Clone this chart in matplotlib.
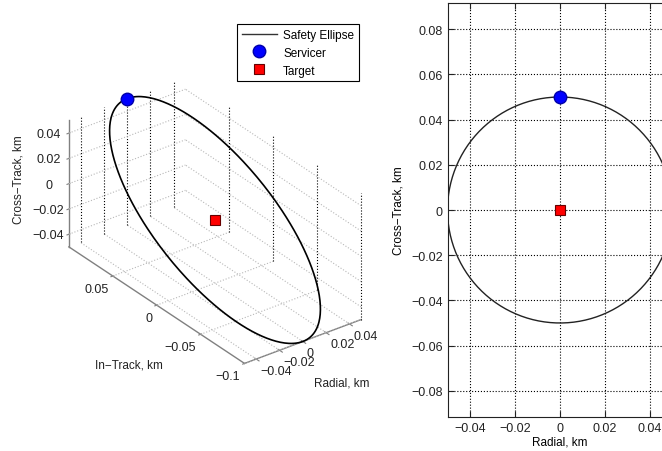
import numpy as np
import matplotlib
matplotlib.use("Agg")
import matplotlib.pyplot as plt
from mpl_toolkits.mplot3d import proj3d

plt.rcParams['font.family'] = ['Liberation Sans', 'DejaVu Sans']
plt.rcParams['font.size'] = 9

# Safety ellipse (km)
radial_amp = 0.05
intrack_amp = 0.10
cross_amp = 0.05
servicer = [0.0, 0.10, 0.05]   # radial, in-track, cross-track
target = [0.0, 0.0, 0.0]

radial_lim = [-0.05, 0.05]
intrack_lim = [-0.1, 0.1]
cross_lim = [-0.05, 0.05]
radial_ticks = [-0.04, -0.02, 0, 0.02, 0.04]
radial_labels = ['\u22120.04', '\u22120.02', '0', '0.02', '0.04']
intrack_ticks = [-0.1, -0.05, 0, 0.05]
intrack_labels = ['\u22120.1', '\u22120.05', '0', '0.05']
cross_ticks = [-0.04, -0.02, 0, 0.02, 0.04]
cross_labels = ['\u22120.04', '\u22120.02', '0', '0.02', '0.04']
cross_ticks_2d = [-0.08, -0.06, -0.04, -0.02, 0, 0.02, 0.04, 0.06, 0.08]
cross_labels_2d = ['\u22120.08', '\u22120.06', '\u22120.04', '\u22120.02', '0',
                   '0.02', '0.04', '0.06', '0.08']

theta = np.linspace(0, 2 * np.pi, 361)
radial = radial_amp * np.sin(theta)
intrack = intrack_amp * np.cos(theta)
cross = cross_amp * np.cos(theta)

label_fs = 8.5
txt_c = '#222222'

fig = plt.figure(figsize=(6.62, 4.52), dpi=100)
W, H = fig.bbox.width, fig.bbox.height

# ---- left: 3D view ----
ax = fig.add_axes([0.0, 0.1, 0.6, 0.8], projection='3d', proj_type='ortho',
                  computed_zorder=False)
ax.set_facecolor('none')
ax.set_xlim(radial_lim)
ax.set_ylim(intrack_lim)
ax.set_zlim(cross_lim)
ax.set_box_aspect((0.1, 0.2, 0.1))
ax.view_init(elev=30, azim=-127)
ax.grid(False)
for a in (ax.xaxis, ax.yaxis, ax.zaxis):
    a.set_pane_color((1, 1, 1, 0))
    a.pane.set_edgecolor((1, 1, 1, 0))
    a.line.set_color('#808080')
    a.line.set_linewidth(1.0)

ax.set_xticks(radial_ticks)
ax.set_xticklabels(radial_labels, ha='left')
ax.set_yticks(intrack_ticks)
ax.set_yticklabels(intrack_labels, ha='right')
ax.set_zticks(cross_ticks)
ax.set_zticklabels(cross_labels)
ax.tick_params(colors='#808080', labelcolor=txt_c, labelsize=9)
ax.xaxis.set_tick_params(pad=-5)
ax.yaxis.set_tick_params(pad=-3)
ax.zaxis.set_tick_params(pad=1)

floor_c = '#b8b8b8'
wall_c = '#000000'
x0, x1 = radial_lim
y0, y1 = intrack_lim
z0, z1 = cross_lim
for xv in radial_ticks:
    ax.plot([xv, xv], [y0, y1], [z0, z0], ls=':', color=floor_c, lw=0.8, zorder=1)
    ax.plot([xv, xv], [y1, y1], [z0, z1], ls=':', color=wall_c, lw=0.8, zorder=1)
for yv in intrack_ticks:
    ax.plot([x0, x1], [yv, yv], [z0, z0], ls=':', color=floor_c, lw=0.8, zorder=1)
    ax.plot([x1, x1], [yv, yv], [z0, z1], ls=':', color=wall_c, lw=0.8, zorder=1)
for zv in cross_ticks:
    ax.plot([x0, x1], [y1, y1], [zv, zv], ls=':', color=floor_c, lw=0.8, zorder=1)
    ax.plot([x1, x1], [y0, y1], [zv, zv], ls=':', color=floor_c, lw=0.8, zorder=1)

l_ell, = ax.plot(radial, intrack, cross, color='black', lw=1.2, zorder=2,
                 label='Safety Ellipse')
l_srv, = ax.plot([servicer[0]], [servicer[1]], [servicer[2]], 'o', ms=9,
                 color='#0000ff', mec='#0000aa', zorder=3, label='Servicer')
l_tgt, = ax.plot([target[0]], [target[1]], [target[2]], 's', ms=7,
                 color='#ff0000', mec='#660000', mew=0.8, zorder=3, label='Target')

# place the 3D box so that the origin and scale match the layout
target_px = (215, H - 221)
target_scale = 1264.0
for _ in range(4):
    fig.canvas.draw()
    px, py, _ = proj3d.proj_transform(np.array([0.0, 0.0]), np.array([0.0, 0.0]),
                                      np.array([0.0, 0.05]), ax.M)
    d = ax.transData.transform(np.column_stack([px, py]))
    scale = (d[1, 1] - d[0, 1]) / 0.05
    pos = ax.get_position()
    w = pos.width * W
    cx = pos.x0 * W + w / 2
    cy = pos.y0 * H + pos.height * H / 2
    f = target_scale / scale
    nw = w * f
    ox = (d[0, 0] - cx) * f
    oy = (d[0, 1] - cy) * f
    ncx = target_px[0] - ox
    ncy = target_px[1] - oy
    ax.set_position([(ncx - nw / 2) / W, (ncy - nw / 2) / H, nw / W, nw / H])

fig.text(19 / W, 1 - 180 / H, 'Cross\u2212Track, km', rotation=90,
         ha='center', va='center', color=txt_c, fontsize=label_fs)
fig.text(129 / W, 1 - 365 / H, 'In\u2212Track, km', ha='center', va='center',
         color=txt_c, fontsize=label_fs)
fig.text(342 / W, 1 - 384 / H, 'Radial, km', ha='center', va='center',
         color=txt_c, fontsize=label_fs)

leg = fig.legend(handles=[l_ell, l_srv, l_tgt], loc='upper left',
                 bbox_to_anchor=(237 / W, 1 - 25 / H), borderaxespad=0,
                 frameon=True, fancybox=False, edgecolor='black', framealpha=1,
                 handlelength=3.0, borderpad=0.4, labelspacing=0.5,
                 handletextpad=0.5, fontsize=label_fs)
leg.get_frame().set_linewidth(0.8)
leg.get_lines()[0].set_color('#333333')
leg.get_lines()[0].set_linewidth(1.0)

# ---- right: radial vs cross-track ----
ax2 = fig.add_axes([447.5 / W, 1 - 418 / H, 225 / W, 414 / H])
ax2.plot(radial, cross, color='#222222', lw=1.0)
ax2.plot([servicer[0]], [servicer[2]], 'o', ms=9, color='#0000ff', mec='#0000aa')
ax2.plot([target[0]], [target[2]], 's', ms=6.5, color='#ff0000', mec='#660000', mew=0.8)
ax2.set_xlim(-0.05, 0.05)
ax2.set_ylim(-0.0916, 0.0916)
ax2.set_xticks(radial_ticks)
ax2.set_xticklabels(radial_labels)
ax2.set_yticks(cross_ticks_2d)
ax2.set_yticklabels(cross_labels_2d)
ax2.grid(True, ls=':', color='black', lw=0.8)
ax2.tick_params(direction='in', top=True, right=True, length=4, colors=txt_c)
for s in ax2.spines.values():
    s.set_color(txt_c)
ax2.set_xlabel('Radial, km', labelpad=1, fontsize=label_fs)
ax2.set_ylabel('Cross\u2212Track, km', labelpad=5, fontsize=label_fs)

fig.savefig('out.png', dpi=100)
